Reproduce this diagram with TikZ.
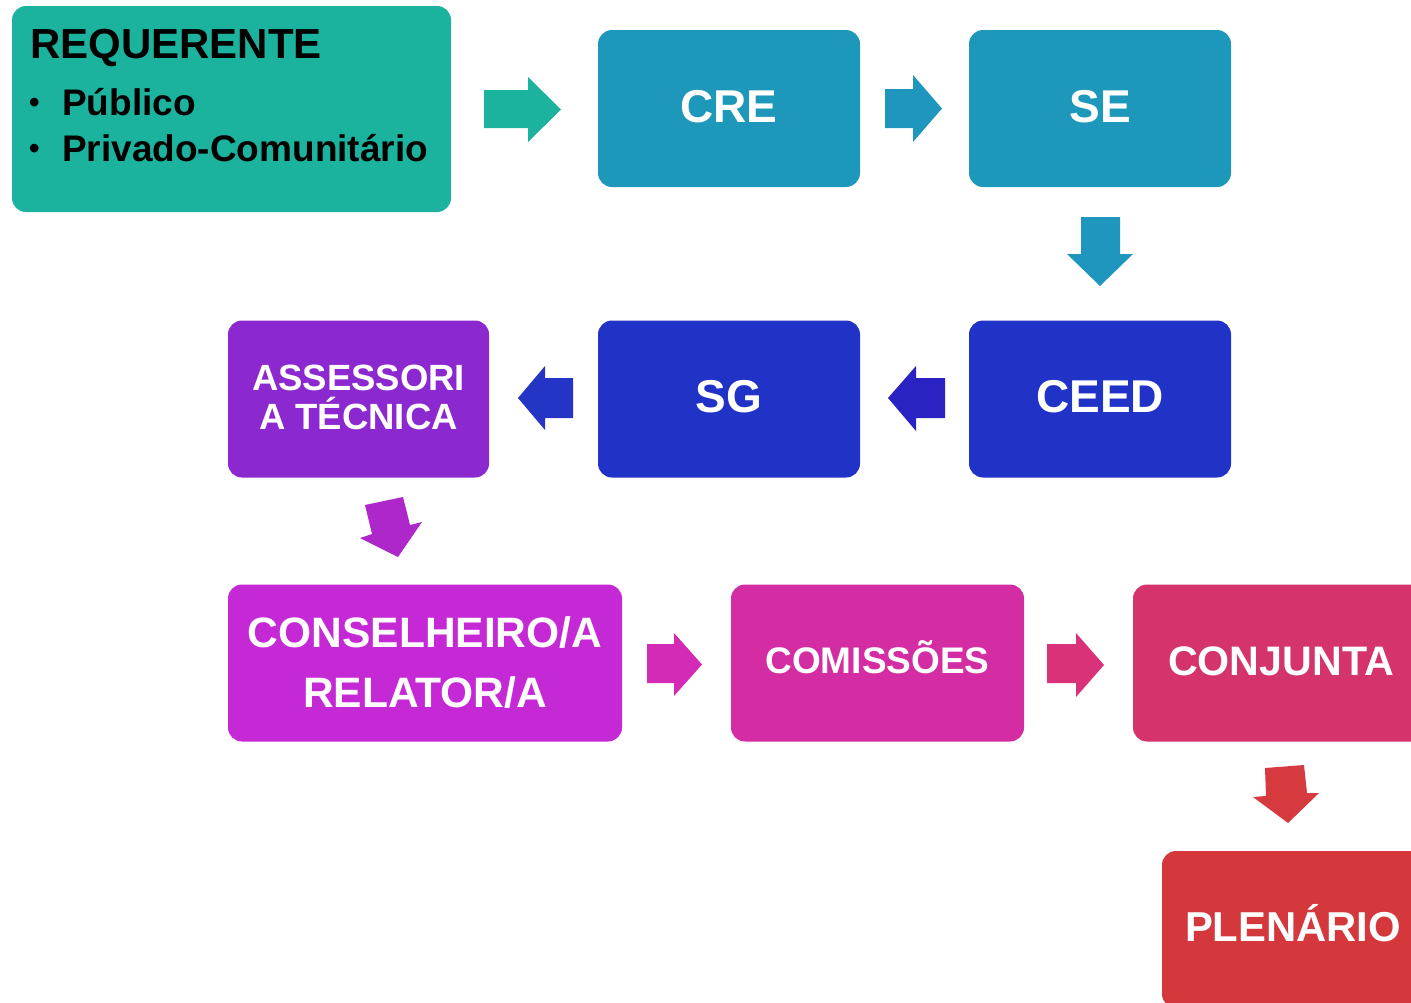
\documentclass[tikz,border=0pt]{standalone}
\usepackage{fontspec}
\setmainfont{Liberation Sans}
\definecolor{cReq}{HTML}{1BB39E}
\definecolor{cCre}{HTML}{1E98BA}
\definecolor{cArrB}{HTML}{1F96BE}
\definecolor{cCeed}{HTML}{2133C6}
\definecolor{cArrV}{HTML}{2B22C3}
\definecolor{cArrS}{HTML}{2434C4}
\definecolor{cAss}{HTML}{8B28CF}
\definecolor{cArrP}{HTML}{AD27CB}
\definecolor{cCons}{HTML}{C529D5}
\definecolor{cArrM}{HTML}{D32BB5}
\definecolor{cCom}{HTML}{D42CA2}
\definecolor{cArrR}{HTML}{DA3278}
\definecolor{cConj}{HTML}{D5336C}
\definecolor{cArrD}{HTML}{D63A3F}
\definecolor{cPlen}{HTML}{D4383C}
\begin{document}
\begin{tikzpicture}[x=1pt,y=-1pt,
  box/.style={rounded corners=14pt, inner sep=0pt, text=white,
    minimum width=262pt, minimum height=157pt},
  onel/.style={box, font=\fontsize{#1}{#1}\selectfont\bfseries,
    text height=0.716*#1 pt, text depth=5pt},
  twol/.style={inner sep=0pt, text=white, align=center},
  blk/.style={fill=#1, draw=none}]
\useasboundingbox (0,0) rectangle (1411,1002);
\clip (0,0) rectangle (1411,1002);

% boxes
\node[box, fill=cReq, minimum width=439pt, minimum height=206pt] (req) at (231.5,109) {};
\node[anchor=base west, inner sep=0pt, font=\fontsize{42}{42}\selectfont\bfseries] (reqt) at (30,58) {REQUERENTE};
\node[anchor=base west, inner sep=0pt, font=\fontsize{30}{30}\selectfont\bfseries] (b1) at (29,112) {•};
\node[anchor=base west, inner sep=0pt, font=\fontsize{37}{37}\selectfont\bfseries] (pub) at (62,115) {Público};
\node[anchor=base west, inner sep=0pt, font=\fontsize{30}{30}\selectfont\bfseries] (b2) at (29,158) {•};
\node[anchor=base west, inner sep=0pt, font=\fontsize{37}{37}\selectfont\bfseries] (priv) at (62,161) {Privado-Comunitário};

\node[onel=46, fill=cCre] (cre) at (729,108.5) {CRE};
\node[onel=46, fill=cCre] (se) at (1100,108.5) {SE};
\node[onel=46, fill=cCeed] (ceed) at (1100,399) {CEED};
\node[onel=46, fill=cCeed] (sg) at (729,399) {SG};
\node[box, fill=cAss, minimum width=261pt] (ass) at (358.5,399) {};
\node[twol, font=\fontsize{36.5}{39}\selectfont\bfseries] (asst) at (358.5,397) {ASSESSORI\\A TÉCNICA};
\node[box, fill=cCons, minimum width=394pt] (cons) at (425,663) {};
\node[twol, font=\fontsize{42.5}{60}\selectfont\bfseries] (const) at (425,663) {CONSELHEIRO/A\\RELATOR/A};
\node[onel=37, fill=cCom, minimum width=293pt] (com) at (877.5,663) {COMISSÕES};
\node[onel=41.2, fill=cConj, minimum width=296pt] (conj) at (1281,663) {CONJUNTA};
\node[onel=41.8, fill=cPlen, minimum width=262pt] (plen) at (1293,929.5) {PLENÁRIO};

% block arrows
\fill[blk=cReq] (484,90) -- (528,90) -- (528,77) -- (561,109.5) -- (528,142) -- (528,128) -- (484,128) -- cycle;
\fill[blk=cArrB] (885,89) -- (913,89) -- (913,75) -- (942,108.5) -- (913,142) -- (913,128) -- (885,128) -- cycle;
\fill[blk=cArrB] (1081,217) -- (1120,217) -- (1120,254) -- (1133,254) -- (1100,286) -- (1067,254) -- (1081,254) -- cycle;
\fill[blk=cArrV] (945,378) -- (916,378) -- (916,366) -- (888,398) -- (916,431) -- (916,418) -- (945,418) -- cycle;
\fill[blk=cArrS] (573,378) -- (545,378) -- (545,366) -- (518,398) -- (545,430) -- (545,418) -- (573,418) -- cycle;
\fill[blk=cArrP] (365,505) -- (403,497) -- (410,525) -- (422,522) -- (398,557) -- (360,538) -- (372,534) -- cycle;
\fill[blk=cArrM] (647,644) -- (674,644) -- (674,633) -- (702,664.5) -- (674,696) -- (674,683) -- (647,683) -- cycle;
\fill[blk=cArrR] (1047,644) -- (1076,644) -- (1076,633) -- (1104,665) -- (1076,697) -- (1076,683) -- (1047,683) -- cycle;
\fill[blk=cArrD] (1265,768) -- (1304,765) -- (1307,793) -- (1319,793) -- (1288,823) -- (1253,797) -- (1266,796) -- cycle;
\end{tikzpicture}
\end{document}
